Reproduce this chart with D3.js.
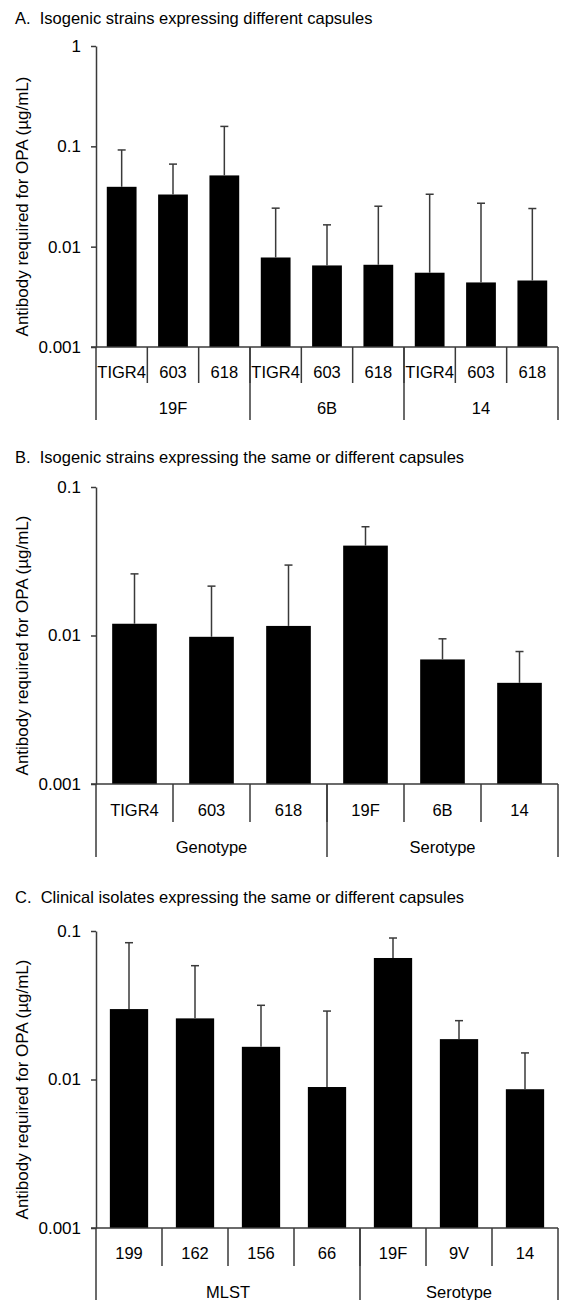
<!DOCTYPE html>
<html>
<head>
<meta charset="utf-8">
<script src="https://cdn.jsdelivr.net/npm/d3@7"></script>
<style>
  body { margin: 0; background: #fff; }
  text { font-family: Arial, "Liberation Sans", sans-serif; fill: #000; }
</style>
</head>
<body>
<div id="chart"></div>
<script>
// Panel A
const titleA = "A.  Isogenic strains expressing different capsules";
const catsA = ["TIGR4", "603", "618", "TIGR4", "603", "618", "TIGR4", "603", "618"];
const groupsA = ["19F", "6B", "14"];
const groupSizesA = [3, 3, 3];
const valuesA = [0.0395, 0.0331, 0.0513, 0.0078, 0.0065, 0.0066, 0.0055, 0.0044, 0.0046];
const errTopA = [0.092, 0.0665, 0.158, 0.0242, 0.0165, 0.0253, 0.0333, 0.0271, 0.024];
const ticksA = [0.001, 0.01, 0.1, 1];

// Panel B
const titleB = "B.  Isogenic strains expressing the same or different capsules";
const catsB = ["TIGR4", "603", "618", "19F", "6B", "14"];
const groupsB = ["Genotype", "Serotype"];
const groupSizesB = [3, 3];
const valuesB = [0.012, 0.0098, 0.0116, 0.0403, 0.0069, 0.0048];
const errTopB = [0.026, 0.0215, 0.0298, 0.054, 0.0095, 0.0078];
const ticksB = [0.001, 0.01, 0.1];

// Panel C
const titleC = "C.  Clinical isolates expressing the same or different capsules";
const catsC = ["199", "162", "156", "66", "19F", "9V", "14"];
const groupsC = ["MLST", "Serotype"];
const groupSizesC = [4, 3];
const valuesC = [0.0298, 0.0258, 0.0166, 0.0089, 0.0658, 0.0187, 0.0086];
const errTopC = [0.0834, 0.0584, 0.0316, 0.0289, 0.0897, 0.0249, 0.0151];
const ticksC = [0.001, 0.01, 0.1];

const yTitle = "Antibody required for OPA (\u00b5g/mL)";

const width = 561, height = 1300;
const left = 96, right = 558;
const lineColor = "#3a3a3a";

const svg = d3.select("#chart").append("svg")
  .attr("width", width)
  .attr("height", height);

const panels = [
  { title: titleA, cats: catsA, groups: groupsA, sizes: groupSizesA, values: valuesA, errs: errTopA, ticks: ticksA,
    titleY: 18, top: 46, bottom: 347, catY: 372, catDiv: 383, groupY: 408, groupDiv: 420 },
  { title: titleB, cats: catsB, groups: groupsB, sizes: groupSizesB, values: valuesB, errs: errTopB, ticks: ticksB,
    titleY: 457, top: 487, bottom: 784, catY: 810, catDiv: 822, groupY: 847, groupDiv: 857 },
  { title: titleC, cats: catsC, groups: groupsC, sizes: groupSizesC, values: valuesC, errs: errTopC, ticks: ticksC,
    titleY: 897, top: 931, bottom: 1228, catY: 1253, catDiv: 1266, groupY: 1292, groupDiv: 1300 }
];

panels.forEach(drawPanel);

function drawPanel(p) {
  const g = svg.append("g");
  const idx = d3.range(p.cats.length);

  const y = d3.scaleLog()
    .domain([d3.min(p.ticks), d3.max(p.ticks)])
    .range([p.bottom, p.top]);

  // one cell per category, bar sits in the middle of it
  const cell = d3.scaleBand().domain(idx).range([left, right]).padding(0);
  const x = d3.scaleBand().domain(idx).range([left, right])
    .paddingInner(0.42).paddingOuter(0.21);
  const edge = (i) => i < p.cats.length ? cell(i) : right;

  // title
  g.append("text")
    .attr("x", 15)
    .attr("y", p.titleY)
    .attr("dominant-baseline", "central")
    .style("white-space", "pre")
    .style("font-size", "16.5px")
    .text(p.title);

  // y axis title
  g.append("text")
    .attr("transform", `translate(22,${(p.top + p.bottom) / 2 + 10}) rotate(-90)`)
    .attr("text-anchor", "middle")
    .attr("dominant-baseline", "central")
    .style("font-size", "17px")
    .text(yTitle);

  // bars
  g.append("g")
    .selectAll("rect")
    .data(idx)
    .join("rect")
    .attr("x", (i) => x(i))
    .attr("width", x.bandwidth())
    .attr("y", (i) => y(p.values[i]))
    .attr("height", (i) => y(d3.min(p.ticks)) - y(p.values[i]))
    .attr("fill", "#000");

  // error bars (upper only)
  const err = g.append("g")
    .attr("stroke", lineColor)
    .attr("stroke-width", 1.5);
  err.selectAll("line.stem")
    .data(idx)
    .join("line")
    .attr("class", "stem")
    .attr("x1", (i) => x(i) + x.bandwidth() / 2)
    .attr("x2", (i) => x(i) + x.bandwidth() / 2)
    .attr("y1", (i) => y(p.values[i]))
    .attr("y2", (i) => y(p.errs[i]));
  err.selectAll("line.cap")
    .data(idx)
    .join("line")
    .attr("class", "cap")
    .attr("x1", (i) => x(i) + x.bandwidth() / 2 - 4)
    .attr("x2", (i) => x(i) + x.bandwidth() / 2 + 4)
    .attr("y1", (i) => y(p.errs[i]))
    .attr("y2", (i) => y(p.errs[i]));

  // y axis
  const yAxis = d3.axisLeft(y)
    .tickValues(p.ticks)
    .tickFormat((d) => String(d))
    .tickSizeInner(5)
    .tickSizeOuter(0)
    .tickPadding(10);
  const ya = g.append("g")
    .attr("transform", `translate(${left},0)`)
    .call(yAxis);
  ya.select(".domain").attr("stroke", lineColor).attr("stroke-width", 1.5);
  ya.selectAll(".tick line").attr("stroke", lineColor).attr("stroke-width", 1.5);
  ya.selectAll(".tick text")
    .style("font-size", "17px")
    .style("font-family", "Arial, 'Liberation Sans', sans-serif")
    .attr("fill", "#000");

  // x baseline
  g.append("line")
    .attr("x1", left - 5).attr("x2", right)
    .attr("y1", p.bottom).attr("y2", p.bottom)
    .attr("stroke", lineColor).attr("stroke-width", 1.5);

  // category dividers and labels
  const div = g.append("g").attr("stroke", lineColor).attr("stroke-width", 1.5);
  div.selectAll("line.cat")
    .data(d3.range(1, p.cats.length))
    .join("line")
    .attr("class", "cat")
    .attr("x1", (i) => cell(i)).attr("x2", (i) => cell(i))
    .attr("y1", p.bottom).attr("y2", p.catDiv);

  g.append("g").selectAll("text")
    .data(idx)
    .join("text")
    .attr("x", (i) => cell(i) + cell.bandwidth() / 2)
    .attr("y", p.catY)
    .attr("text-anchor", "middle")
    .attr("dominant-baseline", "central")
    .style("font-size", "16.5px")
    .text((i) => p.cats[i]);

  // group dividers and labels
  const bounds = [0, ...d3.cumsum(p.sizes)];
  div.selectAll("line.grp")
    .data(bounds)
    .join("line")
    .attr("class", "grp")
    .attr("x1", (b) => edge(b))
    .attr("x2", (b) => edge(b))
    .attr("y1", p.bottom).attr("y2", p.groupDiv);

  g.append("g").selectAll("text")
    .data(p.groups)
    .join("text")
    .attr("x", (d, j) => (edge(bounds[j]) + edge(bounds[j + 1])) / 2)
    .attr("y", p.groupY)
    .attr("text-anchor", "middle")
    .attr("dominant-baseline", "central")
    .style("font-size", "16.5px")
    .text((d) => d);
}
</script>
</body>
</html>
